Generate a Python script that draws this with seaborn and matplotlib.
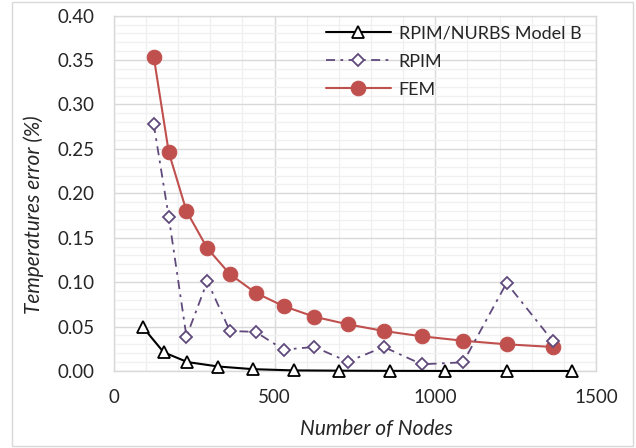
import numpy as np
import pandas as pd
import matplotlib
matplotlib.use("Agg")
import matplotlib.pyplot as plt
import matplotlib.ticker as mticker
from matplotlib.patches import Rectangle
import seaborn as sns

# ── Data ──────────────────────────────────────────────────────
nodes_b = [91, 155, 229, 325, 433, 560, 702, 860, 1031, 1222, 1427]
err_b = [0.049, 0.021, 0.010, 0.005, 0.002, 0.0006, 0.0003, 0.0001, 0.0, 0.0, 0.0]

nodes = [124, 171, 226, 291, 361, 441, 528, 624, 728, 840, 958, 1087, 1222, 1365]
err_fem = [0.354, 0.246, 0.180, 0.138, 0.109, 0.088, 0.073, 0.061, 0.0525,
           0.045, 0.039, 0.034, 0.030, 0.027]
err_rpim = [0.278, 0.173, 0.0386, 0.101, 0.045, 0.044, 0.024, 0.027, 0.0105,
            0.027, 0.0075, 0.0097, 0.099, 0.034]

RED = "#C0504D"
PURPLE = "#604A7B"
TXT = "#262626"

sns.set_style("white")
plt.rcParams["font.family"] = ["Lato", "DejaVu Sans"]

fig = plt.figure(figsize=(6.36, 4.48), dpi=100)
ax = fig.add_axes([0.179, 0.172, 0.758, 0.793])

# chart border
fig.patches.append(Rectangle((12 / 636, 2 / 448), 621 / 636, 444 / 448,
                             transform=fig.transFigure, fill=False,
                             edgecolor="#d9d9d9", lw=1.0))

sns.lineplot(x=nodes_b, y=err_b, ax=ax, color="black", lw=1.5, marker="^",
             markersize=9, markerfacecolor="white", markeredgecolor="black",
             markeredgewidth=1.3, label="RPIM/NURBS Model B", clip_on=False, zorder=5)
sns.lineplot(x=nodes, y=err_rpim, ax=ax, color=PURPLE, lw=1.3, marker="D",
             linestyle=(0, (5, 3, 1.5, 3)), markersize=6.5, markerfacecolor="white",
             markeredgecolor=PURPLE, markeredgewidth=1.3, label="RPIM",
             clip_on=False, zorder=4)
sns.lineplot(x=nodes, y=err_fem, ax=ax, color=RED, lw=1.5, marker="o",
             markersize=10.5, markerfacecolor=RED, markeredgecolor=RED,
             label="FEM", clip_on=False, zorder=3)

ax.set_xlim(0, 1500)
ax.set_ylim(0, 0.40)
ax.xaxis.set_major_locator(mticker.MultipleLocator(500))
ax.xaxis.set_minor_locator(mticker.MultipleLocator(100))
ax.yaxis.set_major_locator(mticker.MultipleLocator(0.05))
ax.yaxis.set_minor_locator(mticker.MultipleLocator(0.01))
ax.yaxis.set_major_formatter(mticker.FormatStrFormatter("%.2f"))
ax.grid(which="major", color="#d9d9d9", lw=1.0)
ax.grid(which="minor", color="#f0f0f0", lw=1.0)
ax.set_axisbelow(True)
for s in ax.spines.values():
    s.set_color("#d9d9d9")
    s.set_linewidth(1.0)
ax.tick_params(which="both", length=0, labelsize=13.5, colors=TXT)
ax.tick_params(axis="y", pad=14)
ax.tick_params(axis="x", pad=13)

ax.set_xlabel("Number of Nodes", fontsize=15, style="italic", color=TXT)
ax.set_ylabel("Temperatures error (%)", fontsize=15, style="italic", color=TXT)
ax.xaxis.set_label_coords(0.544, -0.135)
ax.yaxis.set_label_coords(-0.145, 0.44)

leg = ax.legend(loc="upper right", frameon=False, fontsize=13, handlelength=3.6,
                handletextpad=0.45, labelspacing=0.66, borderaxespad=0.0,
                bbox_to_anchor=(0.985, 0.992))
for t in leg.get_texts():
    t.set_color(TXT)

fig.savefig("out.png", dpi=100, facecolor="white")
